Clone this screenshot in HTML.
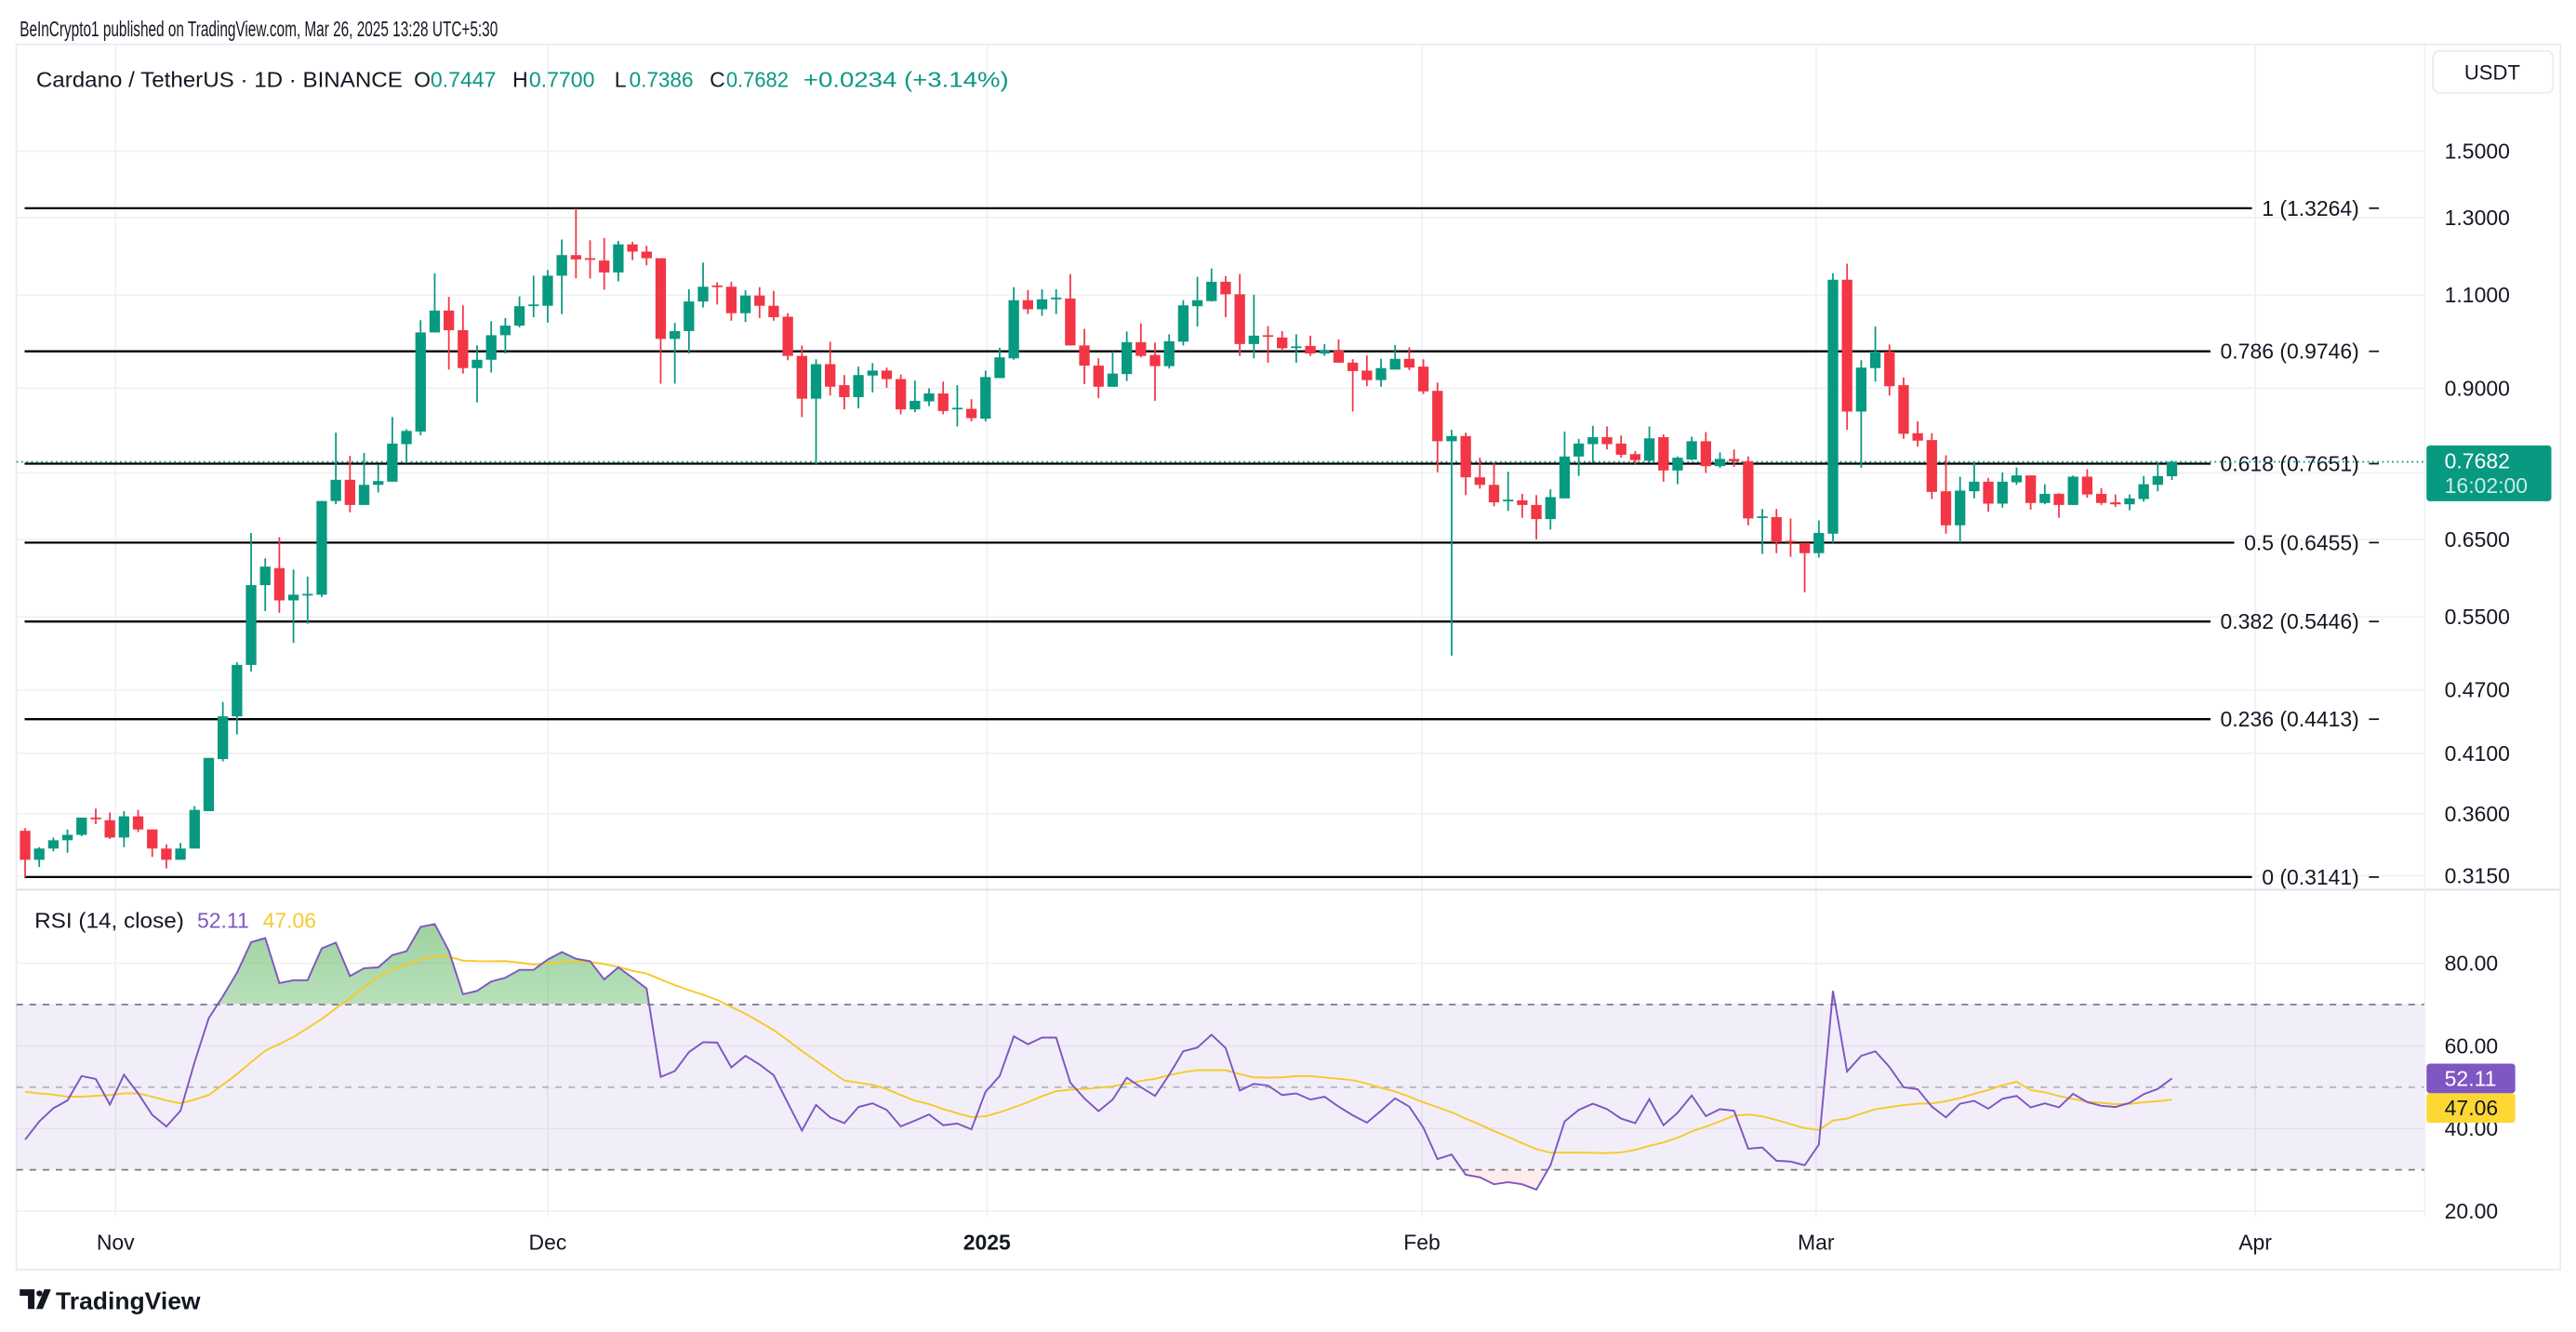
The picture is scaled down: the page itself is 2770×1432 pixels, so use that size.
<!DOCTYPE html>
<html><head><meta charset="utf-8">
<style>
html,body{margin:0;padding:0;background:#fff;}
svg{display:block;font-family:"Liberation Sans",sans-serif;}
</style></head>
<body>
<svg id="chart" width="2770" height="1432" viewBox="0 0 1568 811" preserveAspectRatio="none" xmlns="http://www.w3.org/2000/svg">
<defs>
<linearGradient id="obGrad" x1="0" y1="0" x2="0" y2="1">
<stop offset="0" stop-color="#4caf50" stop-opacity="0.55"/>
<stop offset="1" stop-color="#4caf50" stop-opacity="0.02"/>
</linearGradient>
<clipPath id="clipOB"><rect x="0" y="540" width="1476" height="71.2"/></clipPath>
<clipPath id="clipOS"><rect x="0" y="711.8" width="1476" height="40"/></clipPath>
</defs>
<text x="12" y="22" font-size="13" fill="#131722" textLength="291" lengthAdjust="spacingAndGlyphs">BeInCrypto1 published on TradingView.com, Mar 26, 2025 13:28 UTC+5:30</text>
<rect x="10" y="27" width="1548.5" height="746" fill="none" stroke="#e9ebf0" stroke-width="1"/>
<g id="grid"></g>
<rect x="10" y="611.2" width="1466" height="100.6" fill="#7e57c2" fill-opacity="0.1"/>
<g id="fib"></g>
<g id="candles"></g>
<g id="rsi"></g>
<line x1="10" y1="541.7" x2="1558" y2="541.7" stroke="#e0e3eb" stroke-width="1.2"/>
<line x1="1476" y1="27" x2="1476" y2="741" stroke="#f0f1f4" stroke-width="0.8"/>
<g id="axes"></g>
<g font-size="13">
<text x="22" y="53" fill="#131722" textLength="223" lengthAdjust="spacingAndGlyphs">Cardano / TetherUS · 1D · BINANCE</text>
<text x="252" y="53" fill="#131722">O</text><text x="262" y="53" fill="#089981" textLength="40" lengthAdjust="spacingAndGlyphs">0.7447</text>
<text x="312" y="53" fill="#131722">H</text><text x="322" y="53" fill="#089981" textLength="40" lengthAdjust="spacingAndGlyphs">0.7700</text>
<text x="374" y="53" fill="#131722">L</text><text x="383" y="53" fill="#089981" textLength="39" lengthAdjust="spacingAndGlyphs">0.7386</text>
<text x="432" y="53" fill="#131722">C</text><text x="442" y="53" fill="#089981" textLength="38" lengthAdjust="spacingAndGlyphs">0.7682</text>
<text x="489" y="53" fill="#089981" textLength="125" lengthAdjust="spacingAndGlyphs">+0.0234 (+3.14%)</text>
</g>
<g>
<rect x="1481" y="31" width="73" height="25.5" rx="4" fill="#fff" stroke="#e9ebf0"/>
<text x="1517" y="48.5" font-size="12.5" fill="#131722" text-anchor="middle">USDT</text>
</g>
<g font-size="13">
<text x="21" y="565" fill="#131722" textLength="91" lengthAdjust="spacingAndGlyphs">RSI (14, close)</text>
<text x="120" y="565" fill="#7e57c2">52.11</text>
<text x="160" y="565" fill="#f7c92e">47.06</text>
</g>
<g>
<path d="M12 785 h9 v12 h-4 v-8 h-5 z M22 797 l5 -12 h4 l-5 12 z" fill="#131722"/>
<circle cx="24" cy="787.5" r="1.8" fill="#131722"/>
<text x="34" y="797" font-size="14.5" font-weight="bold" fill="#131722" textLength="88" lengthAdjust="spacingAndGlyphs">TradingView</text>
</g>
</svg>
<script>
// ---- data ----
const opens=[.347,.326,.334,.340,.344,.357,.355,.342,.358,.348,
.334,.326,.334,.362,.405,.444,.496,.589,.611,.570,
.577,.577,.706,.739,.700,.731,.736,.798,.820,1.015,
1.064,1.020,.940,.957,1.009,1.030,1.076,1.075,1.147,1.199,
1.191,1.185,1.155,1.227,1.208,1.191,1.001,1.018,1.085,1.123,
1.120,1.058,1.099,1.075,1.050,.965,.880,.948,.906,.883,
.925,.935,.918,.860,.875,.890,.862,.861,.843,.920,
.960,1.088,1.067,1.092,1.092,.987,.945,.903,.928,.994,
.967,.944,.995,1.074,1.086,1.132,1.102,.990,1.009,1.004,
.983,.986,.970,.976,.951,.935,.916,.937,.959,.943,
.895,.803,.812,.743,.731,.707,.707,.700,.679,.710,
.777,.798,.810,.799,.781,.770,.810,.754,.772,.803,
.761,.773,.769,.682,.682,.648,.645,.631,.658,1.137,
.856,.940,.974,.906,.817,.805,.721,.670,.721,.736,
.702,.735,.746,.703,.717,.700,.744,.717,.704,.701,
.709,.731,.7447];
const highs=[.349,.335,.342,.348,.357,.364,.361,.362,.363,.348,
.337,.338,.366,.406,.458,.499,.659,.624,.653,.609,
.600,.706,.818,.778,.783,.764,.846,.824,1.042,1.153,
1.096,1.076,.987,1.040,1.047,1.097,1.147,1.161,1.240,1.3264,
1.238,1.244,1.236,1.234,1.223,1.191,1.036,1.114,1.180,1.131,
1.132,1.112,1.119,1.110,1.058,.987,.958,.995,.926,.943,
.950,.941,.927,.915,.900,.913,.906,.879,.935,.982,
1.119,1.112,1.114,1.114,1.151,1.023,.960,.974,1.017,1.035,
.993,1.011,1.088,1.144,1.165,1.146,1.151,1.101,1.029,1.018,
1.011,1.008,.990,1.000,.958,.966,.959,.988,.983,.958,
.911,.823,.818,.775,.766,.752,.717,.715,.724,.820,
.807,.830,.829,.813,.786,.829,.815,.777,.811,.819,
.784,.789,.777,.694,.694,.680,.645,.677,1.153,1.177,
.956,1.028,.989,.921,.838,.817,.779,.744,.768,.742,
.751,.759,.746,.732,.718,.746,.756,.726,.716,.716,
.745,.768,.7700];
const lows=[.3141,.321,.332,.331,.343,.352,.341,.335,.346,.328,
.320,.326,.334,.362,.403,.427,.489,.557,.555,.520,
.542,.574,.701,.689,.700,.719,.736,.766,.813,1.015,
.937,.929,.873,.931,.970,1.026,1.049,1.037,1.056,1.140,
1.140,1.113,1.133,1.186,1.173,.909,.909,.970,1.071,1.078,
1.041,1.038,1.047,1.041,.956,.846,.763,.886,.860,.862,
.892,.901,.851,.855,.866,.851,.829,.838,.838,.920,
.957,1.056,1.052,1.056,.987,.908,.881,.903,.914,.962,
.876,.939,.987,1.028,1.085,1.049,.965,.960,.951,.975,
.951,.965,.965,.951,.856,.904,.903,.937,.936,.889,
.751,.506,.715,.725,.698,.691,.681,.650,.664,.710,
.745,.767,.789,.775,.763,.767,.736,.732,.771,.750,
.758,.760,.670,.630,.631,.626,.580,.625,.645,.823,
.758,.913,.886,.807,.794,.709,.658,.646,.710,.690,
.696,.731,.693,.701,.681,.700,.711,.700,.697,.692,
.705,.721,.7386];
const closes=[.326,.334,.340,.344,.357,.356,.342,.358,.348,.334,
.326,.334,.363,.406,.444,.496,.589,.613,.570,.577,
.578,.706,.739,.700,.731,.737,.799,.821,1.015,1.064,
1.020,.940,.957,1.009,1.030,1.074,1.078,1.147,1.199,1.188,
1.188,1.155,1.227,1.208,1.191,1.001,1.018,1.085,1.120,1.120,
1.058,1.099,1.075,1.049,.965,.880,.948,.903,.883,.926,
.935,.918,.860,.876,.890,.857,.863,.844,.922,.962,
1.088,1.067,1.090,1.094,.987,.945,.903,.929,.994,.965,
.944,.996,1.076,1.088,1.132,1.102,.990,1.008,1.007,.981,
.985,.970,.976,.951,.934,.916,.940,.959,.941,.894,
.803,.812,.743,.731,.704,.708,.700,.679,.712,.777,
.799,.810,.798,.780,.771,.808,.754,.775,.803,.761,
.773,.769,.680,.683,.646,.647,.631,.659,1.137,.856,
.941,.974,.904,.816,.804,.720,.670,.722,.736,.702,
.736,.746,.703,.717,.700,.744,.716,.703,.701,.710,
.732,.745,.7682];
const rsiValues=[37.3,41.7,44.9,46.8,52.7,52.0,45.8,53.0,48.5,43.3,
40.5,44.3,56.1,66.7,72.0,77.7,85.1,86.1,75.2,75.9,
75.9,83.6,85.0,76.9,78.8,79.0,82.0,82.9,88.8,89.5,
83.0,72.5,73.3,75.6,76.5,78.4,78.4,80.9,82.7,81.1,
80.5,76.1,79.0,76.5,73.9,52.5,53.9,58.5,60.9,60.8,
54.8,57.6,55.5,52.9,46.2,39.5,45.7,42.7,41.3,45.2,
46.1,44.5,40.5,41.9,43.4,40.8,41.2,39.8,48.9,52.7,
62.3,60.4,62.0,62.0,51.1,47.3,44.2,47.0,52.3,50.0,
47.9,53.0,58.7,59.6,62.7,59.5,49.2,50.8,50.4,48.1,
48.5,47.0,47.7,45.3,43.2,41.4,44.3,47.3,45.3,40.2,
32.6,33.7,28.8,28.2,26.5,27.0,26.5,25.2,31.1,41.7,
44.5,46.0,44.7,42.4,41.3,47.1,40.8,43.8,48.0,43.0,
44.7,44.3,35.1,35.4,32.2,32.0,31.1,36.1,73.3,53.8,
57.6,58.7,54.9,50.0,49.5,45.3,42.7,46.0,46.7,44.8,
47.2,47.9,45.1,46.1,45.1,48.4,46.4,45.5,45.2,46.2,
48.3,49.6,52.11];
const rsiMaPrefix=[48.9,48.5,48.2,47.7,47.7,47.9,48.1,48.5,48.5,47.7,46.8,46.1,47.0];
const priceTicks=[1.5,1.3,1.1,0.9,0.65,0.55,0.47,0.41,0.36,0.315];
const priceTickLabels=["1.5000","1.3000","1.1000","0.9000","0.6500","0.5500","0.4700","0.4100","0.3600","0.3150"];
const extraGridPrices=[0.75];
const fibRatios=["1","0.786","0.618","0.5","0.382","0.236","0"];
const fibPrices=[1.3264,0.9746,0.7651,0.6455,0.5446,0.4413,0.3141];
const dateLabels=["Nov","Dec","2025","Feb","Mar","Apr"];
const dateIndex=[6.4,37,68.1,98.9,126.8,157.9];
const rsiTicks=[80,60,40,20];
const lastPrice=0.7682, countdown="16:02:00";
const rsiLast=52.11, rsiMaLast=47.06;

// ---- scales ----
const NS="http://www.w3.org/2000/svg";
const X0=15.3, STEP=8.597;
const xOf=i=>X0+i*STEP;
const yP=p=>92+(Math.log(1.5)-Math.log(p))*282.7;
const yR=v=>737.4-(v-20)*2.515;
function mk(tag,attrs,parent){const e=document.createElementNS(NS,tag);for(const k in attrs)e.setAttribute(k,attrs[k]);parent.appendChild(e);return e;}
const gGrid=document.getElementById('grid'),gFib=document.getElementById('fib'),gC=document.getElementById('candles'),gR=document.getElementById('rsi'),gA=document.getElementById('axes');

priceTicks.concat(extraGridPrices).forEach(p=>{
  const l=mk('line',{x1:10,x2:1476,y1:yP(p),y2:yP(p),stroke:'#f0f1f4','stroke-width':1},gGrid);
  
  
});
rsiTicks.forEach(v=>{
  const l=mk('line',{x1:10,x2:1476,y1:yR(v),y2:yR(v),stroke:'#f0f1f4','stroke-width':1},gGrid);
  
  
});
dateIndex.forEach(d=>{
  const l=mk('line',{x1:xOf(d),x2:xOf(d),y1:27,y2:741,stroke:'#f0f1f4','stroke-width':1},gGrid);
  
  
});

fibPrices.forEach((p,k)=>{
  const y=yP(p);
  const t=mk('text',{x:1436,y:y+4.5,'font-size':13,fill:'#131722','text-anchor':'end'},gFib);
  t.textContent=fibRatios[k]+" ("+p.toFixed(4)+")";
  
  
  let w=t.getComputedTextLength?t.getComputedTextLength():70;
  const l=mk('line',{x1:15,x2:1436-w-6,y1:y,y2:y,stroke:'#000','stroke-width':1.3},gFib);
  
  
  const d=mk('line',{x1:1442,x2:1448,y1:y,y2:y,stroke:'#131722','stroke-width':1},gFib);
  
  
});
const lp=mk('line',{x1:10,x2:1476,y1:yP(lastPrice),y2:yP(lastPrice),stroke:'#089981','stroke-width':1,'stroke-dasharray':'1 2'},gFib);



for(let i=0;i<opens.length;i++){
  const up=closes[i]>=opens[i];
  const col=up?'#089981':'#f23645';
  const x=xOf(i);
  const w=mk('line',{x1:x,x2:x,y1:yP(highs[i]),y2:yP(lows[i]),stroke:col,'stroke-width':1},gC);
  
  
  const yt=yP(Math.max(opens[i],closes[i])),yb=yP(Math.min(opens[i],closes[i]));
  const b=mk('rect',{x:x-3.2,y:yt,width:6.4,height:Math.max(1,yb-yt),fill:col},gC);
  
  
}

[[70,'#787b86','4 4'],[50,'#b2b5be','4 4'],[30,'#787b86','4 4']].forEach(a=>{
  const l=mk('line',{x1:10,x2:1476,y1:yR(a[0]),y2:yR(a[0]),stroke:a[1],'stroke-width':1,'stroke-dasharray':a[2]},gR);
  
  
});
const rsiMa=rsiValues.map((v,i)=>{
  if(i<13) return rsiMaPrefix[i];
  let s=0;for(let k=i-13;k<=i;k++)s+=rsiValues[k];return s/14;
});
const linePts=rsiValues.map((v,i)=>xOf(i).toFixed(2)+','+yR(v).toFixed(2)).join(' ');
const lastX=xOf(rsiValues.length-1);
const ob=mk('polygon',{points:xOf(0)+','+yR(70)+' '+linePts+' '+lastX+','+yR(70),fill:'url(#obGrad)','clip-path':'url(#clipOB)'},gR);


const os=mk('polygon',{points:xOf(0)+','+yR(30)+' '+linePts+' '+lastX+','+yR(30),fill:'#f23645','fill-opacity':0.1,'clip-path':'url(#clipOS)'},gR);


const maLine=mk('polyline',{points:rsiMa.map((v,i)=>xOf(i).toFixed(2)+','+yR(v).toFixed(2)).join(' '),fill:'none',stroke:'#f7c92e','stroke-width':1.1},gR);


const rl=mk('polyline',{points:linePts,fill:'none',stroke:'#7e57c2','stroke-width':1.1},gR);



priceTicks.forEach((p,k)=>{
  const t=mk('text',{x:1488,y:yP(p)+4.5,'font-size':13,fill:'#131722'},gA);
  t.textContent=priceTickLabels[k];
  
  
});
rsiTicks.forEach(v=>{
  const t=mk('text',{x:1488,y:yR(v)+4.5,'font-size':13,fill:'#131722'},gA);
  t.textContent=v.toFixed(2);
  
  
});
dateLabels.forEach((s,k)=>{
  const t=mk('text',{x:xOf(dateIndex[k]),y:761,'font-size':13,fill:'#131722','text-anchor':'middle','font-weight':s==='2025'?'bold':'normal'},gA);
  t.textContent=s;
  
  
});
const yl=yP(lastPrice);
const tag=mk('rect',{x:1477,y:yl-10,width:76,height:34,rx:2,fill:'#089981'},gA);


const t1=mk('text',{x:1488,y:yl+4,'font-size':13,fill:'#fff'},gA);
t1.textContent=lastPrice.toFixed(4);


const t2=mk('text',{x:1488,y:yl+19,'font-size':13,fill:'#c8ece5'},gA);
t2.textContent=countdown;


const r1=mk('rect',{x:1477,y:yR(rsiLast)-9,width:54,height:18,rx:2,fill:'#7e57c2'},gA);


const r1t=mk('text',{x:1488,y:yR(rsiLast)+4.5,'font-size':13,fill:'#fff'},gA);
r1t.textContent=rsiLast.toFixed(2);


const r2y=Math.max(yR(rsiMaLast),yR(rsiLast)+18);
const r2=mk('rect',{x:1477,y:r2y-9,width:54,height:18,rx:2,fill:'#fdd835'},gA);


const r2t=mk('text',{x:1488,y:r2y+4.5,'font-size':13,fill:'#131722'},gA);
r2t.textContent=rsiMaLast.toFixed(2);


</script>
</body></html>
